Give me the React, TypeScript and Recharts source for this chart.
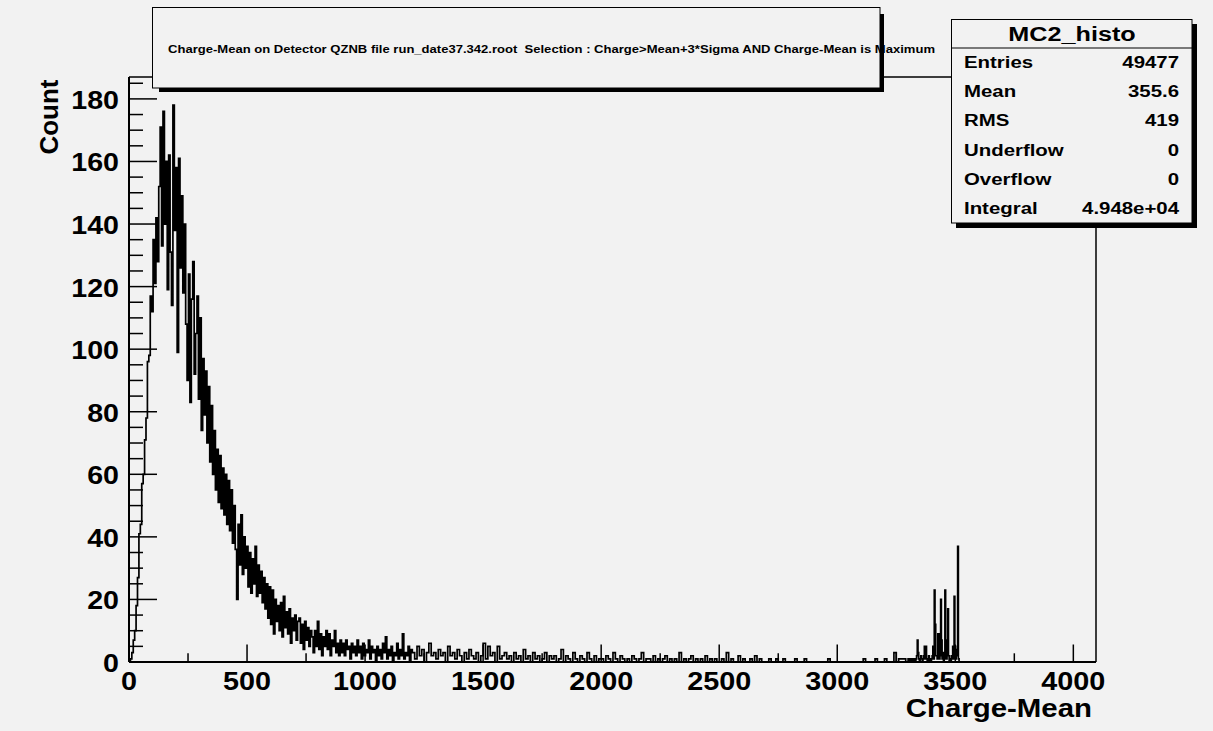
import { Line, LineChart, ReferenceLine, XAxis, YAxis } from "recharts"

const X_MAX = 4096
const Y_MAX = 187
const BG = "#f2f2f2"
const FONT = "'Liberation Sans', Arial, Helvetica, sans-serif"

// counts, three stretches with their own bin width
const peakStart = 0
const peakStep = 6
const peakCounts = [
  0, 1, 3, 7, 10, 18, 27, 41, 44, 57,
  60, 71, 78, 96, 98, 117, 112, 135, 121, 142,
  128, 152, 171, 133, 176, 140, 160, 119, 162, 131,
  114, 178, 138, 158, 99, 161, 126, 149, 118, 140,
  108, 90, 124, 83, 116, 128, 92, 105, 117, 84,
  110, 74, 97, 79, 93, 70, 88, 64, 82, 60,
  74, 55, 68, 51, 66, 49, 62, 47, 60, 44,
  58, 42, 55, 38, 50, 36, 20, 44, 31, 47,
  28, 40, 30, 37, 24, 35, 22, 33, 25, 37,
  21, 31, 22, 29, 19, 27, 17, 25, 14, 24,
  12, 23, 9, 20, 13, 18, 10, 19, 8, 21,
  11, 16, 9, 17, 6, 14, 10, 15, 7, 13,
  14, 6, 12, 4, 13, 7, 11, 5, 10, 8,
  3, 10, 5, 13, 4, 9, 2, 8, 5, 10,
  4, 9, 2, 7, 5, 10, 3, 6, 2, 7,
  3, 6, 2, 7, 4, 5, 1, 6, 3, 5,
  2, 7, 3, 5, 1, 6, 2, 4, 3, 7,
  1, 5, 3, 4, 0, 5, 2, 4, 1, 6,
  3, 8, 1, 4, 2, 5, 0, 3, 2, 6,
  1, 4, 2, 9, 1, 3, 2, 5, 0, 4,
]

const tailStart = 1200
const tailStep = 10
const tailCounts = [
  3, 1, 5, 2, 4, 0, 3, 6, 2, 3,
  1, 4, 2, 3, 0, 5, 2, 3, 1, 4,
  2, 0, 3, 1, 4, 2, 1, 3, 0, 2,
  6, 1, 5, 2, 3, 0, 5, 1, 2, 3,
  1, 2, 0, 3, 1, 2, 0, 4, 1, 2,
  0, 3, 1, 2, 0, 1, 3, 0, 2, 1,
  2, 0, 1, 4, 0, 2, 1, 0, 3, 1,
  0, 2, 1, 0, 3, 1, 0, 2, 0, 1,
  1, 0, 2, 1, 0, 3, 1, 0, 2, 1,
  0, 1, 0, 2, 1, 0, 1, 3, 0, 1,
  1, 0, 2, 0, 1, 0, 1, 2, 0, 1,
  0, 1, 0, 3, 0, 1, 0, 1, 2, 0,
  1, 0, 1, 0, 2, 0, 1, 0, 1, 0,
  0, 1, 0, 3, 0, 1, 0, 0, 2, 0,
  1, 0, 0, 1, 0, 2, 0, 1, 0, 0,
  0, 1, 0, 0, 1, 0, 0, 1, 0, 0,
  0, 0, 1, 0, 0, 0, 1, 0, 0, 0,
  0, 0, 0, 0, 0, 0, 1, 0, 0, 0,
  0, 0, 0, 0, 0, 0, 0, 0, 0, 0,
  0, 1, 0, 0, 0, 0, 1, 0, 0, 0,
  1, 0, 0, 0, 3, 0, 1, 1, 1, 0,
]

const clusterStart = 3300
const clusterStep = 3
const clusterCounts = [
  1, 0, 1, 0, 1, 1, 0, 1, 0, 1,
  0, 1, 2, 7, 3, 1, 0, 1, 2, 1,
  0, 1, 2, 5, 1, 5, 1, 0, 1, 2,
  0, 1, 0, 1, 2, 5, 1, 23, 12, 2,
  2, 1, 9, 9, 1, 2, 20, 7, 1, 3,
  0, 1, 23, 7, 1, 2, 17, 2, 0, 1,
  0, 2, 1, 5, 1, 21, 5, 1, 4, 2,
  37, 1, 0, 0,
]

const yTicks = [
  0, 5, 10, 15, 20, 25, 30, 35, 40, 45, 50, 55, 60, 65, 70, 75, 80, 85, 90, 95,
  100, 105, 110, 115, 120, 125, 130, 135, 140, 145, 150, 155, 160, 165, 170, 175, 180, 185,
]
const xTicks = [0, 250, 500, 750, 1000, 1250, 1500, 1750, 2000, 2250, 2500, 2750, 3000, 3250, 3500, 3750, 4000]

const statsTitle = "MC2_histo"
const statLabels = ["Entries", "Mean", "RMS", "Underflow", "Overflow", "Integral"]
const statValues = ["49477", "355.6", "419", "0", "0", "4.948e+04"]

const titleText =
  "Charge-Mean on Detector QZNB file run_date37.342.root  Selection : Charge>Mean+3*Sigma AND Charge-Mean is Maximum"

function buildData() {
  const rows: { x: number; count: number }[] = []
  peakCounts.forEach((c, i) => rows.push({ x: peakStart + i * peakStep, count: c }))
  tailCounts.forEach((c, i) => rows.push({ x: tailStart + i * tailStep, count: c }))
  clusterCounts.forEach((c, i) => rows.push({ x: clusterStart + i * clusterStep, count: c }))
  rows.push({ x: clusterStart + clusterCounts.length * clusterStep, count: 0 })
  rows.push({ x: X_MAX, count: 0 })
  return rows
}

const data = buildData()

function YTick(props: any) {
  const { x, y, payload } = props
  const v = payload.value as number
  const major = v % 20 === 0
  return (
    <g>
      <line x1={x} x2={x + (major ? 28 : 14)} y1={y} y2={y} stroke="#000" strokeWidth={1.5} />
      {major && (
        <g transform={`translate(${x - 10},${y + 10}) scale(1.1,1)`}>
          <text textAnchor="end" fontSize={26} fontWeight="bold" fontFamily={FONT} fill="#000">
            {v}
          </text>
        </g>
      )}
    </g>
  )
}

function XTick(props: any) {
  const { x, y, payload } = props
  const v = payload.value as number
  const major = v % 500 === 0
  return (
    <g>
      <line x1={x} x2={x} y1={y} y2={y - (major ? 17.5 : 8.7)} stroke="#000" strokeWidth={1.5} />
      {major && (
        <g transform={`translate(${x},${y + 28}) scale(1.13,1)`}>
          <text textAnchor="middle" fontSize={25.5} fontWeight="bold" fontFamily={FONT} fill="#000">
            {v}
          </text>
        </g>
      )}
    </g>
  )
}

function Stretch({ x, y, sx, size, anchor, children }: any) {
  return (
    <g transform={`translate(${x},${y}) scale(${sx},1)`}>
      <text textAnchor={anchor} fontSize={size} fontWeight="bold" fontFamily={FONT} fill="#000">
        {children}
      </text>
    </g>
  )
}

export default function App() {
  return (
    <div
      style={{
        position: "absolute",
        left: 0,
        top: 0,
        width: 1213,
        height: 731,
        background: BG,
        overflow: "hidden",
      }}
    >
      <LineChart
        width={1213}
        height={731}
        data={data}
        margin={{ top: 77, right: 117, bottom: 0, left: 0 }}
        style={{ position: "absolute", left: 0, top: 0 }}
      >
        <XAxis
          dataKey="x"
          type="number"
          domain={[0, X_MAX]}
          ticks={xTicks}
          interval={0}
          allowDataOverflow
          height={69}
          tickSize={0}
          tickMargin={0}
          tickLine={false}
          axisLine={{ stroke: "#000", strokeWidth: 2 }}
          tick={(p: any) => <XTick {...p} />}
        />
        <YAxis
          type="number"
          domain={[0, Y_MAX]}
          ticks={yTicks}
          interval={0}
          allowDataOverflow
          width={129}
          tickSize={0}
          tickMargin={0}
          tickLine={false}
          axisLine={{ stroke: "#000", strokeWidth: 2 }}
          tick={(p: any) => <YTick {...p} />}
        />
        <ReferenceLine y={Y_MAX} stroke="#000" strokeWidth={1.5} />
        <ReferenceLine x={X_MAX} stroke="#000" strokeWidth={1.5} />
        <Line
          dataKey="count"
          type="stepAfter"
          stroke="#000"
          strokeWidth={1.7}
          dot={false}
          isAnimationActive={false}
        />
      </LineChart>

      <svg width={1213} height={731} style={{ position: "absolute", left: 0, top: 0 }}>
        {/* title pave */}
        <rect x={159} y={14} width={725} height={78} fill="#000" />
        <rect x={152.5} y={7.5} width={727.5} height={80.5} fill={BG} />
        <text
          x={168}
          y={53}
          fontSize={11.5}
          fontWeight="bold"
          fontFamily={FONT}
          textLength={767}
          lengthAdjust="spacingAndGlyphs"
          xmlSpace="preserve"
          style={{ whiteSpace: "pre" }}
          fill="#000"
        >
          {titleText}
        </text>
        <rect x={152.5} y={7.5} width={727.5} height={80.5} fill="none" stroke="#000" strokeWidth={1} />

        {/* stats box */}
        <rect x={956} y={24} width={241} height={204} fill="#000" />
        <rect x={951.5} y={19.5} width={240.5} height={203.5} fill={BG} stroke="#000" strokeWidth={1} />
        <line x1={951.5} x2={1192} y1={48} y2={48} stroke="#000" strokeWidth={1} />
        <Stretch x={1072} y={41} sx={1.2} size={21} anchor="middle">
          {statsTitle}
        </Stretch>
        {statLabels.map((label, i) => (
          <g key={label}>
            <Stretch x={964} y={68 + i * 29.2} sx={1.2} size={17} anchor="start">
              {label}
            </Stretch>
            <Stretch x={1179} y={68 + i * 29.2} sx={1.2} size={17} anchor="end">
              {statValues[i]}
            </Stretch>
          </g>
        ))}

        {/* axis titles */}
        <Stretch x={1092} y={717} sx={1.11} size={26.5} anchor="end">
          Charge-Mean
        </Stretch>
        <g transform="translate(58,117) rotate(-90)">
          <text textAnchor="middle" fontSize={26} fontWeight="bold" fontFamily={FONT} fill="#000">
            Count
          </text>
        </g>
      </svg>
    </div>
  )
}
